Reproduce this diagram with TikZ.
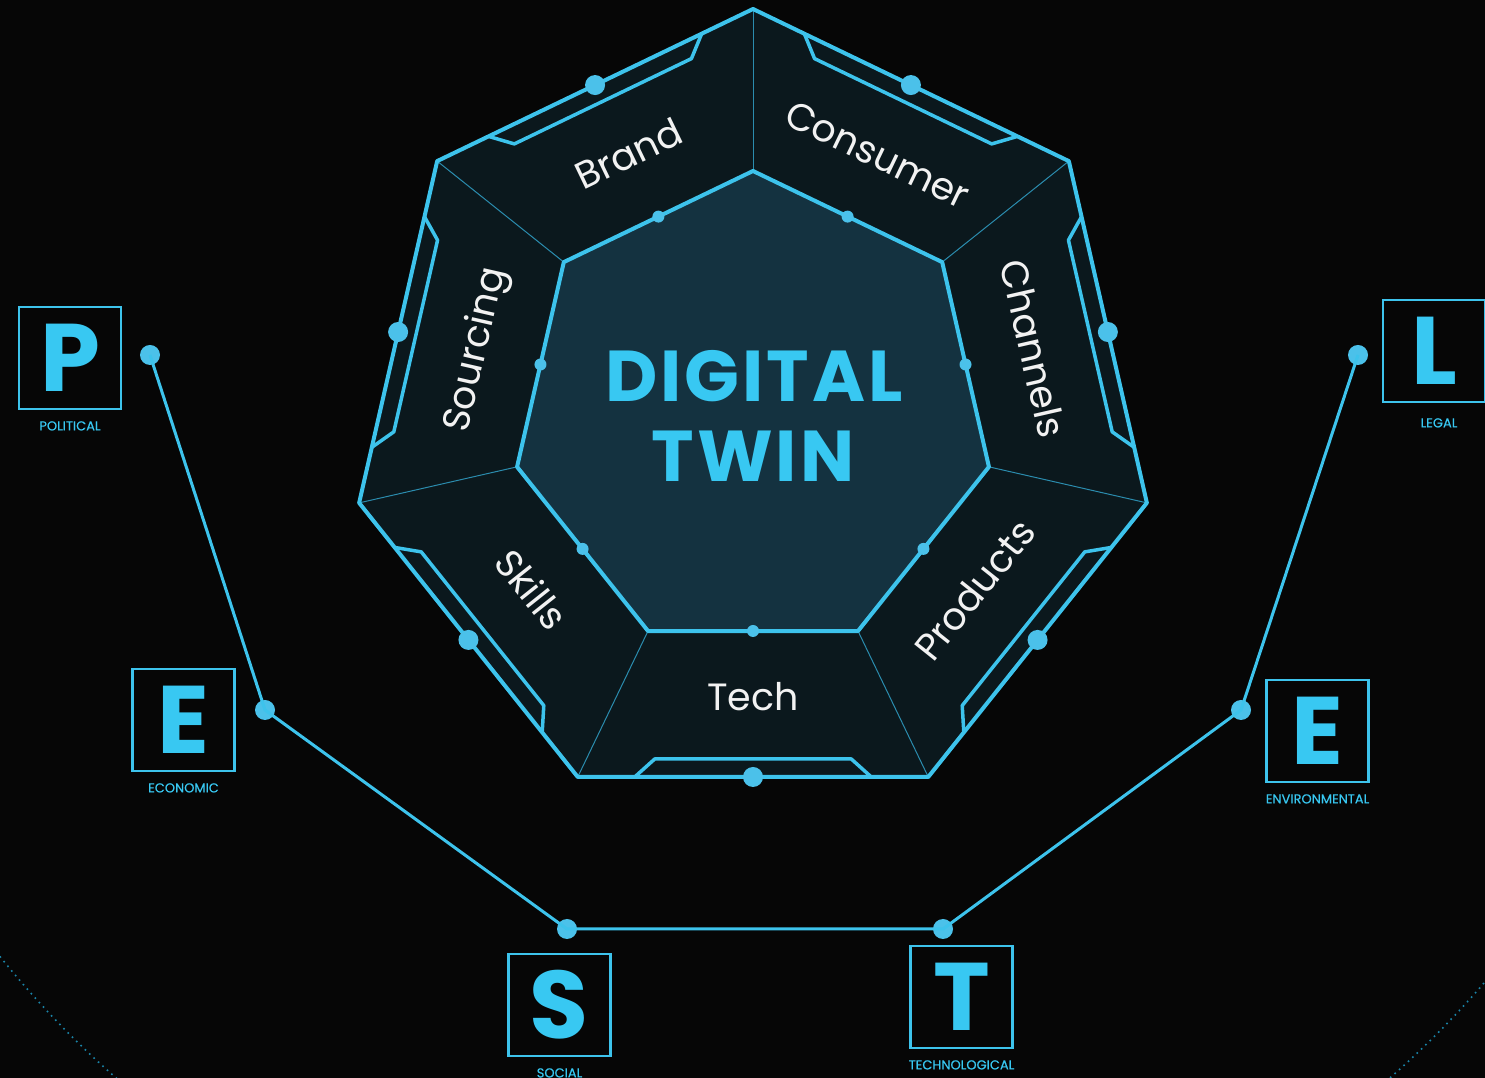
\documentclass[tikz,border=0pt]{standalone}
\usepackage{fontspec}
\setmainfont{Poppins}
\newfontfamily\titlefont{Poppins}[LetterSpace=4]
\newfontfamily\smalllabelfont{Poppins}[FakeBold=0.5]
\definecolor{bgc}{HTML}{060606}
\definecolor{lineblue}{HTML}{3DC3EC}
\definecolor{textblue}{HTML}{38C8F2}
\definecolor{dotblue}{HTML}{4BC1EA}
\definecolor{panelc}{HTML}{0B181D}
\definecolor{innerc}{HTML}{143240}
\definecolor{dividerc}{HTML}{2B8CAE}
\definecolor{labelw}{HTML}{F2F2F2}
\definecolor{arcc}{HTML}{1A84A8}
\begin{document}
\begin{tikzpicture}[x=1pt,y=1pt,
  outline/.style={draw=lineblue, line width=4pt, line join=round},
  bracketline/.style={draw=lineblue, line width=3.5pt, line join=round},
  divider/.style={draw=dividerc, line width=1pt},
  bigdot/.style={fill=dotblue},
  paneltext/.style={text=labelw, font=\fontsize{38}{42}\selectfont, inner sep=0pt, text height=26.5pt, text depth=0pt},
  titletext/.style={text=textblue, inner sep=0pt, text height=50pt, text depth=0pt, font=\titlefont\bfseries\fontsize{72}{76}\selectfont},
  pbox/.style={draw=lineblue, line width=2.5pt, minimum size=102pt, inner sep=0pt, text=textblue, font=\fontsize{96}{100}\selectfont\bfseries, text height=67pt, text depth=0pt},
  plabel/.style={text=textblue, font=\smalllabelfont\fontsize{13}{15}\selectfont, inner sep=0pt, text height=9pt, text depth=0pt, anchor=north},
  cdot/.style={circle, fill=dotblue, minimum size=20pt, inner sep=0pt},
  conn/.style={draw=lineblue, line width=3pt},
  arcdots/.style={draw=arcc, line width=1.6pt, dash pattern=on 1.6pt off 4.4pt}
]
\useasboundingbox (0,0) rectangle (1485,1078);
\clip (0,0) rectangle (1485,1078);
\fill[bgc] (0,0) rectangle (1485,1078);
\draw[arcdots] (753,725) circle[radius=965];

% heptagon
\begin{scope}[shift={(753,665)}]
  \fill[panelc] (90:404) -- (141.4286:404) -- (192.8571:404) -- (244.2857:404) -- (295.7143:404) -- (347.1429:404) -- (38.5714:404) -- cycle;
  \foreach \a in {90,141.4286,192.8571,244.2857,295.7143,347.1429,38.5714}
    \draw[divider] (\a:404) -- (\a:242);
  \draw[outline] (90:404) -- (141.4286:404) -- (192.8571:404) -- (244.2857:404) -- (295.7143:404) -- (347.1429:404) -- (38.5714:404) -- cycle;
  \filldraw[fill=innerc, outline] (90:242) -- (141.4286:242) -- (192.8571:242) -- (244.2857:242) -- (295.7143:242) -- (347.1429:242) -- (38.5714:242) -- cycle;
  \foreach \t in {115.7143,167.1429,218.5714,270,321.4286,12.8571,64.2857} {
    \begin{scope}[rotate=\t-270]
      \draw[bracketline] (-118.3,-364) -- (-98.3,-346) -- (98.3,-346) -- (118.3,-364);
    \end{scope}
    \fill[bigdot] (\t:364) circle[radius=10];
    \fill[bigdot] (\t:218) circle[radius=6];
  }
  \node[paneltext, rotate=25.7143] (brand) at (115.7143:287) {Brand};
  \node[paneltext, rotate=-25.7143] (consumer) at (64.2857:287) {Consumer};
  \node[paneltext, rotate=-77.1429] (channels) at (12.8571:287) {Channels};
  \node[paneltext, rotate=77.1429] (sourcing) at (167.1429:287) {Sourcing};
  \node[paneltext, rotate=51.4286] (products) at (321.4286:284) {Products};
  \node[paneltext] (tech) at (270:284) {Tech};
  \node[paneltext, rotate=-51.4286] (skills) at (218.5714:284) {Skills};
  \node[titletext] (digital) at (1,36) {DIGITAL};
  \node[titletext] (twin) at (0,-44) {TWIN};
\end{scope}

% PESTLE connector
\node[cdot] (d1) at (150,723) {};
\node[cdot] (d2) at (265,368) {};
\node[cdot] (d3) at (567,149) {};
\node[cdot] (d4) at (943,149) {};
\node[cdot] (d5) at (1241,368) {};
\node[cdot] (d6) at (1358,723) {};
\draw[conn] (d1.center) -- (d2.center) -- (d3.center) -- (d4.center) -- (d5.center) -- (d6.center);

% PESTLE boxes
\node[pbox] (bp) at (70,720) {P};
\node[plabel] (lp) at ([yshift=-11pt]bp.south) {POLITICAL};
\node[pbox] (be) at (183.5,358) {E};
\node[plabel] (le) at ([yshift=-11pt]be.south) {ECONOMIC};
\node[pbox] (bs) at (559.5,73) {S};
\node[plabel] (ls) at ([yshift=-11pt]bs.south) {SOCIAL};
\node[pbox] (bt) at (961.5,81) {T};
\node[plabel] (lt) at ([yshift=-11pt]bt.south) {TECHNOLOGICAL};
\node[pbox] (bv) at (1317.5,347) {E};
\node[plabel] (lv) at ([yshift=-11pt]bv.south) {ENVIRONMENTAL};
\node[pbox] (bl) at (1434,727) {L};
\node[plabel] (ll) at ([xshift=5pt,yshift=-15pt]bl.south) {LEGAL};
\end{tikzpicture}
\end{document}
